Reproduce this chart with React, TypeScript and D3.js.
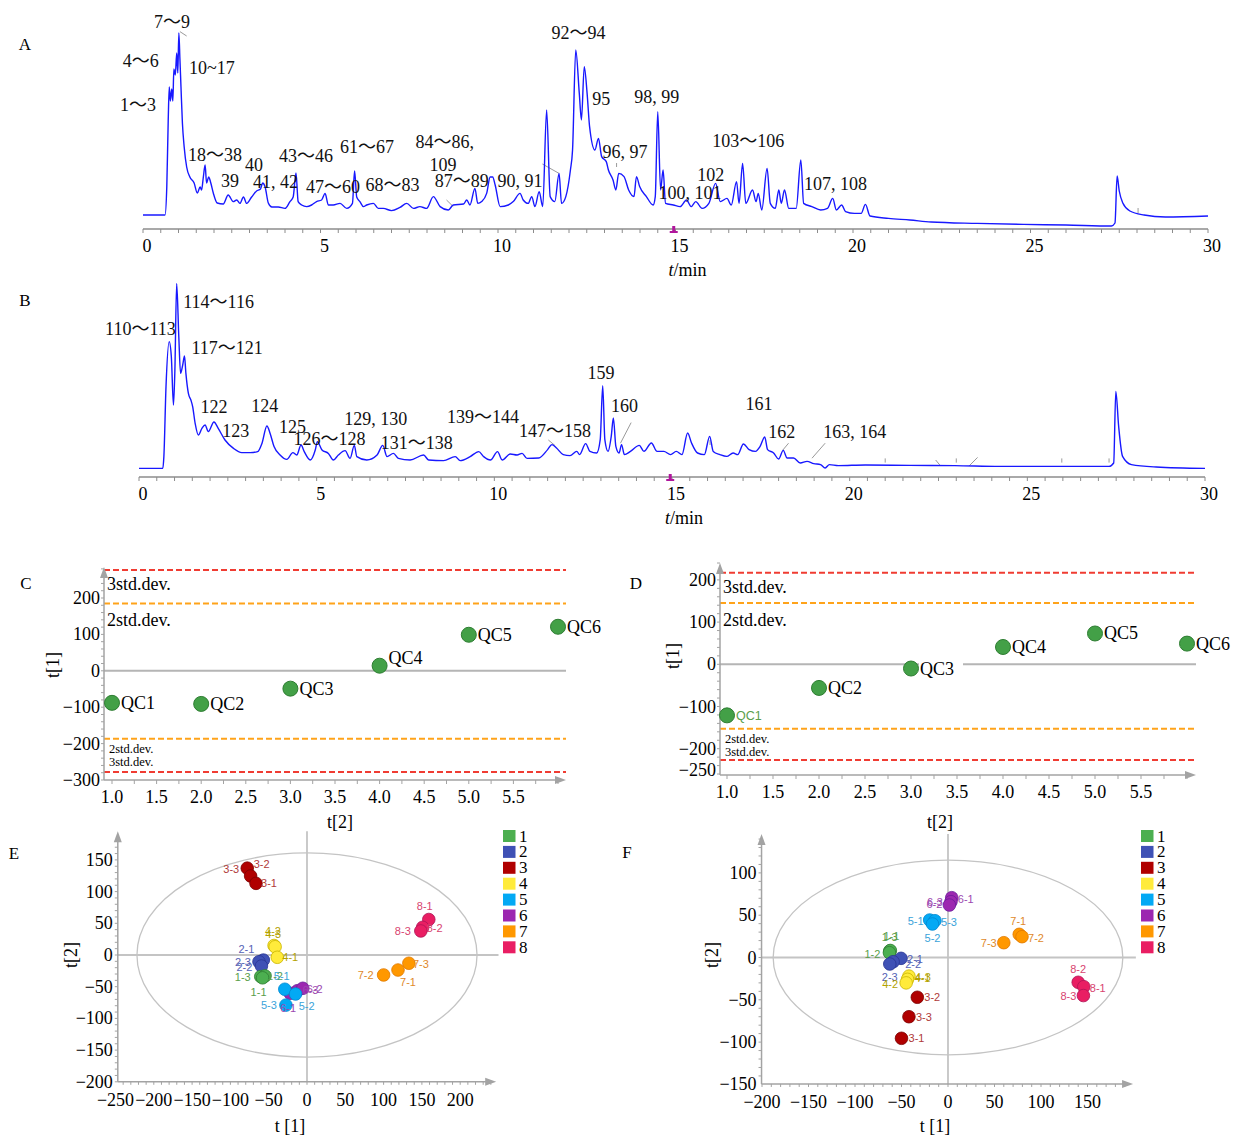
import * as d3 from 'd3';

// ---- chromatogram traces: [time (min), relative intensity] ----
const A_TRACE: [number, number][] = [
  [0, 7], [0.62, 7], [0.67, 21], [0.71, 54], [0.74, 71], [0.77, 64], [0.81, 70], [0.84, 64], [0.87, 80],
  [0.91, 77], [0.95, 88], [0.98, 78], [1.01, 98], [1.04, 85], [1.07, 71], [1.11, 53], [1.16, 41], [1.23, 31],
  [1.32, 26], [1.44, 23], [1.53, 18], [1.61, 21], [1.65, 19.5], [1.7, 26], [1.75, 32], [1.79, 23], [1.85, 26],
  [1.91, 23], [1.98, 18], [2.09, 13], [2.26, 12.5], [2.4, 17], [2.54, 13.7], [2.64, 14.5], [2.73, 12.8],
  [2.83, 16], [2.92, 12.8], [3.06, 16], [3.2, 19], [3.31, 20], [3.37, 23], [3.44, 21], [3.53, 13], [3.63, 11],
  [3.81, 11], [4.0, 10.3], [4.14, 13.7], [4.23, 16], [4.31, 28], [4.37, 13.7], [4.47, 12], [4.61, 11.2],
  [4.75, 12], [4.89, 13.7], [5.03, 14.5], [5.13, 17.8], [5.22, 12], [5.36, 12], [5.55, 12.8], [5.74, 10.3],
  [5.9, 12.8], [5.96, 29], [6.02, 16], [6.11, 13.7], [6.21, 11.2], [6.3, 12], [6.49, 12.8], [6.63, 10.3],
  [6.77, 10.3], [7.0, 9.2], [7.24, 10.8], [7.43, 12.8], [7.62, 10.3], [7.8, 11.2], [7.99, 10.3], [8.18, 16.2],
  [8.37, 11.2], [8.6, 9.5], [8.74, 12], [9.03, 12.5], [9.12, 14.5], [9.21, 12], [9.35, 20.3], [9.43, 12.8],
  [9.54, 13.7], [9.68, 17.8], [9.78, 26], [9.85, 26], [9.92, 22], [10.06, 11.2], [10.29, 12], [10.43, 13.7],
  [10.62, 17.8], [10.71, 14.5], [10.85, 12.8], [10.95, 16.2], [11.04, 11.2], [11.16, 18.7], [11.26, 11.2],
  [11.37, 59.5], [11.47, 16.2], [11.6, 13.7], [11.72, 27.8], [11.79, 12.8], [11.91, 16.2], [12.04, 29.5],
  [12.1, 39.5], [12.19, 89.5], [12.29, 67.8], [12.35, 54.5], [12.43, 81.2], [12.51, 67.8], [12.58, 51.2],
  [12.73, 39.5], [12.83, 45.3], [12.92, 36.2], [13.05, 33.7], [13.11, 29.5], [13.24, 24.5], [13.32, 19.5],
  [13.4, 27.8], [13.55, 26.2], [13.68, 19.5], [13.83, 16.2], [13.9, 26.2], [13.99, 21.2], [14.18, 16.2],
  [14.37, 12], [14.43, 16.2], [14.5, 58.7], [14.58, 19.5], [14.65, 29.5], [14.72, 12.8], [14.94, 12],
  [15.13, 11.2], [15.31, 14.5], [15.44, 11.2], [15.57, 13.7], [15.75, 10.3], [15.94, 12.8], [16.13, 22.8],
  [16.26, 13.7], [16.45, 15.3], [16.57, 12], [16.72, 23.7], [16.79, 12.8], [16.89, 32.8], [16.98, 12.8],
  [17.17, 19.5], [17.27, 13.7], [17.33, 17.8], [17.43, 9.5], [17.58, 30.3], [17.67, 12.8], [17.81, 10.3],
  [17.91, 19.5], [17.98, 12.8], [18.07, 19.5], [18.19, 10.3], [18.4, 10.3], [18.53, 34.5], [18.61, 12.8],
  [18.84, 11.2], [19.09, 9.5], [19.28, 10.3], [19.43, 15.3], [19.53, 9.5], [19.68, 12], [19.79, 8.7],
  [20.04, 7.8], [20.23, 7.8], [20.35, 12.3], [20.48, 6.5], [21.0, 5.3], [21.6, 4.5], [22.2, 3.5], [23.5, 2.8],
  [24.8, 2.3], [26.0, 2.0], [27.28, 1.5], [27.38, 3], [27.44, 26.5], [27.5, 19], [27.6, 13], [27.8, 9],
  [28.2, 7], [28.8, 6], [30, 6.5],
];

const B_TRACE: [number, number][] = [
  [0, 4.3], [0.67, 4.3], [0.7, 10.2], [0.76, 45.2], [0.85, 67.7], [0.91, 60.2], [0.97, 36], [1.01, 53.5],
  [1.06, 96.8], [1.12, 70.2], [1.17, 51.8], [1.23, 56], [1.28, 60.5], [1.32, 51.8], [1.39, 41.8], [1.46, 38.5],
  [1.51, 35.2], [1.58, 26.8], [1.67, 21], [1.77, 24.3], [1.86, 26], [1.95, 22.7], [2.11, 27.5], [2.23, 24.3],
  [2.42, 18.5], [2.66, 14.3], [2.89, 12.2], [3.13, 12.2], [3.34, 12.7], [3.46, 16.8], [3.6, 25.5], [3.69, 21.8],
  [3.8, 15.2], [3.97, 11], [4.16, 8.8], [4.33, 12.2], [4.44, 11], [4.56, 16], [4.65, 12.7], [4.82, 8.5],
  [4.96, 13.5], [5.02, 17.7], [5.15, 13.5], [5.33, 11.8], [5.47, 8.5], [5.61, 11], [5.8, 13.2], [5.94, 9.3],
  [6.06, 15.8], [6.13, 10.2], [6.41, 8.5], [6.7, 11], [6.86, 15.8], [6.98, 10.2], [7.16, 11.8], [7.3, 9.3],
  [7.63, 8.5], [8.01, 11], [8.15, 8.5], [8.57, 8.2], [8.9, 10.2], [9.04, 8.2], [9.32, 10.2], [9.56, 12.7],
  [9.7, 10.2], [9.89, 8.5], [10.09, 12.7], [10.22, 8.5], [10.45, 11.5], [10.64, 11], [10.78, 11.8],
  [10.92, 9.3], [11.25, 9.5], [11.5, 13.7], [11.62, 16.2], [11.75, 14.5], [11.94, 11.2], [12.13, 10.7],
  [12.32, 12.8], [12.4, 11.2], [12.57, 16.7], [12.69, 12.8], [12.88, 12], [12.98, 18.7], [13.05, 45.7],
  [13.11, 18.7], [13.2, 12.8], [13.29, 20.3], [13.35, 29.5], [13.42, 15.3], [13.51, 12], [13.58, 16.2],
  [13.66, 11.2], [13.83, 12.8], [14.08, 15.8], [14.21, 12.8], [14.42, 17], [14.58, 12.8], [14.77, 12.8],
  [14.96, 11.2], [15.12, 12.8], [15.28, 11.2], [15.44, 22], [15.55, 17], [15.72, 12], [15.91, 11.2],
  [16.06, 20.3], [16.16, 12.8], [16.35, 11.2], [16.54, 10.3], [16.72, 12], [16.85, 11.2], [17.01, 16.5],
  [17.17, 13.7], [17.35, 12.8], [17.48, 15.3], [17.61, 20], [17.69, 13.7], [17.86, 12], [18.0, 9],
  [18.13, 13.3], [18.24, 9.5], [18.42, 9.5], [18.61, 7], [18.8, 7.8], [18.99, 6.7], [19.18, 6.2],
  [19.31, 4.5], [19.43, 6.2], [19.68, 5.7], [20.44, 6], [21.7, 5.8], [22.96, 5.7], [24.22, 5.3],
  [25.48, 5.3], [26.74, 5.3], [27.3, 5.3], [27.43, 7], [27.49, 42.8], [27.57, 25.3], [27.68, 10.3],
  [27.93, 6.2], [28.63, 5], [30, 4.3],
];

// peak annotations, placed in (time, intensity) units
const A_PEAKS = [
  { text: '7～9', t: 0.82, v: 103.5 }, { text: '4～6', t: -0.06, v: 84 }, { text: '10~17', t: 1.94, v: 80.5 },
  { text: '1～3', t: -0.14, v: 62 }, { text: '18～38', t: 2.03, v: 37 }, { text: '40', t: 3.13, v: 32 },
  { text: '39', t: 2.45, v: 24 }, { text: '41, 42', t: 3.73, v: 23.5 }, { text: '43～46', t: 4.59, v: 36.5 },
  { text: '47～60', t: 5.35, v: 21 }, { text: '61～67', t: 6.31, v: 41 }, { text: '68～83', t: 7.03, v: 22 },
  { text: '84～86,', t: 8.5, v: 43.5 }, { text: '109', t: 8.45, v: 32 }, { text: '87～89', t: 8.98, v: 24 },
  { text: '90, 91', t: 10.62, v: 24 }, { text: '92～94', t: 12.27, v: 98 }, { text: '95', t: 12.91, v: 65 },
  { text: '98, 99', t: 14.47, v: 66 }, { text: '96, 97', t: 13.58, v: 38.5 }, { text: '103～106', t: 17.05, v: 44 },
  { text: '102', t: 15.99, v: 27 }, { text: '100, 101', t: 15.41, v: 18 }, { text: '107, 108', t: 19.51, v: 22.5 },
];

const B_PEAKS = [
  { text: '110～113', t: 0.04, v: 73.8 }, { text: '114～116', t: 2.24, v: 87.6 }, { text: '117～121', t: 2.48, v: 64.3 },
  { text: '122', t: 2.11, v: 35.1 }, { text: '123', t: 2.72, v: 23.1 }, { text: '124', t: 3.54, v: 35.5 },
  { text: '125', t: 4.32, v: 25.1 }, { text: '126～128', t: 5.36, v: 18.8 }, { text: '129, 130', t: 6.66, v: 28.8 },
  { text: '131～138', t: 7.82, v: 17.1 }, { text: '139～144', t: 9.68, v: 30.1 }, { text: '147～158', t: 11.71, v: 23.1 },
  { text: '159', t: 13.0, v: 52.1 }, { text: '160', t: 13.66, v: 35.5 }, { text: '161', t: 17.45, v: 36.5 },
  { text: '162', t: 18.09, v: 22.6 }, { text: '163, 164', t: 20.14, v: 22.6 },
];

// thin grey pointer lines [t1, v1, t2, v2]
const A_LEADERS = [
  [1.04, 98.7, 1.23, 96.5], [8.55, 14.5, 8.74, 11.2], [11.25, 32.5, 11.72, 27.8], [13.34, 33, 13.34, 31],
  [28.03, 10.5, 28.03, 8],
];
const B_LEADERS = [
  [13.85, 27.2, 13.55, 16.9], [19.31, 16.9, 18.94, 9.4], [18.28, 16.9, 18.12, 13.5], [11.52, 18.5, 11.71, 15.7],
  [16.07, 18.5, 16.07, 16], [21.0, 9.3, 21.0, 7.2], [23.0, 9.3, 23.0, 7.2], [25.97, 9.3, 25.97, 7.2],
  [27.3, 9.3, 27.3, 7.2], [22.42, 8.5, 22.56, 5.5], [23.6, 9.8, 23.36, 5.5],
];

const TIME_TICKS = [0, 5, 10, 15, 20, 25, 30];

// ---- QC score plots ----
const QC_NAMES = ['QC1', 'QC2', 'QC3', 'QC4', 'QC5', 'QC6'];
const QC_ORDER = [1, 2, 3, 4, 5, 6];
const C_SCORES = [-88, -91, -49, 14, 99, 121];
const D_SCORES = [-121, -56, -10, 41, 73, 49];
const C_SD2 = [185, -187];
const C_SD3 = [277, -278];
const D_SD2 = [145, -153];
const D_SD3 = [217, -227];
const C_YTICKS = [200, 100, 0, -100, -200, -300];
const D_YTICKS = [200, 100, 0, -100, -200, -250];
const QC_XTICKS = [1.0, 1.5, 2.0, 2.5, 3.0, 3.5, 4.0, 4.5, 5.0, 5.5];

// ---- PCA score plots ----
const GROUPS = ['1', '2', '3', '4', '5', '6', '7', '8'];
const GROUP_FILL = ['#4caf50', '#3f51b5', '#b00000', '#ffeb3b', '#03a9f4', '#9c27b0', '#ff9800', '#e91e63'];
const GROUP_STROKE = ['#2e7d32', '#283593', '#7a0000', '#c9b400', '#0288d1', '#6a1b9a', '#e07800', '#ad1457'];
const GROUP_TEXT = ['#5a9e4b', '#5562b5', '#b03a3a', '#b3a200', '#3aa3da', '#9c48b0', '#e0892a', '#d8436f'];

const E_POINTS = [
  { id: '3-3', g: 2, x: -78, y: 137 }, { id: '3-2', g: 2, x: -73.6, y: 124.6 }, { id: '3-1', g: 2, x: -66.6, y: 113 },
  { id: '8-1', g: 7, x: 159, y: 56 }, { id: '8-2', g: 7, x: 151, y: 43.7 }, { id: '8-3', g: 7, x: 148.6, y: 37.9 },
  { id: '7-3', g: 6, x: 133, y: -13 }, { id: '7-1', g: 6, x: 118.8, y: -23.7 }, { id: '7-2', g: 6, x: 100, y: -31.5 },
  { id: '4-2', g: 3, x: -43, y: 15 }, { id: '4-3', g: 3, x: -41.6, y: 13 }, { id: '4-1', g: 3, x: -38.8, y: -3.6 },
  { id: '2-1', g: 1, x: -57, y: -8 }, { id: '2-3', g: 1, x: -62.7, y: -10.6 }, { id: '2-2', g: 1, x: -59.5, y: -17.4 },
  { id: '1-3', g: 0, x: -60.4, y: -34 }, { id: '1-2', g: 0, x: -54.8, y: -33 }, { id: '1-1', g: 0, x: -58, y: -36 },
  { id: '6-1', g: 5, x: -22, y: -60.4 }, { id: '6-3', g: 5, x: -12.5, y: -56.3 }, { id: '6-2', g: 5, x: -5.5, y: -52.5 },
  { id: '5-1', g: 4, x: -29, y: -54 }, { id: '5-2', g: 4, x: -14.9, y: -61.5 }, { id: '5-3', g: 4, x: -27.5, y: -79 },
];
const E_LABEL_OFFSETS: Record<string, [number, number]> = {
  '3-3': [-16, 1], '3-2': [11, -12], '3-1': [13, 0], '8-1': [-4, -13], '8-2': [12, 1], '8-3': [-18, 0],
  '7-3': [12, 1], '7-1': [10, 12], '7-2': [-18, 0], '4-3': [-2, -13], '4-2': [-1, -14], '4-1': [13, 0],
  '2-1': [-17, -11], '2-3': [-16, 0], '2-2': [-17, 1], '1-3': [-18, 0], '1-1': [-4, 14], '1-2': [10, 0],
  '5-1': [-3, -13], '5-3': [-17, 0], '5-2': [11, 12], '6-1': [-2, 15], '6-3': [13, -1], '6-2': [12, 1],
};

const F_POINTS = [
  { id: '6-1', g: 5, x: 4, y: 70.7 }, { id: '6-3', g: 5, x: 3.2, y: 66 }, { id: '6-2', g: 5, x: 1.5, y: 62 },
  { id: '5-1', g: 4, x: -19.7, y: 44.3 }, { id: '5-3', g: 4, x: -14, y: 43.5 }, { id: '5-2', g: 4, x: -16.7, y: 39.6 },
  { id: '7-1', g: 6, x: 76.6, y: 27.4 }, { id: '7-2', g: 6, x: 79.6, y: 24.6 }, { id: '7-3', g: 6, x: 60, y: 17.5 },
  { id: '1-3', g: 0, x: -62.6, y: 7.7 }, { id: '1-1', g: 0, x: -62, y: 8.3 }, { id: '1-2', g: 0, x: -63, y: 5.7 },
  { id: '2-1', g: 1, x: -50.5, y: -1 }, { id: '2-2', g: 1, x: -59, y: -5 }, { id: '2-3', g: 1, x: -62.6, y: -7.7 },
  { id: '4-3', g: 3, x: -42, y: -22 }, { id: '4-1', g: 3, x: -43.5, y: -25.8 }, { id: '4-2', g: 3, x: -45, y: -30 },
  { id: '3-2', g: 2, x: -33, y: -47 }, { id: '3-3', g: 2, x: -42, y: -70 }, { id: '3-1', g: 2, x: -50, y: -95.5 },
  { id: '8-2', g: 7, x: 140, y: -29.3 }, { id: '8-1', g: 7, x: 146, y: -34.5 }, { id: '8-3', g: 7, x: 145.6, y: -45 },
];
const F_LABEL_OFFSETS: Record<string, [number, number]> = {
  '6-1': [14, 1], '6-2': [-15, -1], '6-3': [-16, 0], '5-1': [-14, 1], '5-3': [14, 1], '5-2': [0, 14],
  '7-1': [-1, -13], '7-2': [14, 1], '7-3': [-15, 0], '1-3': [0, -14], '1-1': [1, -14], '1-2': [-17, 1],
  '2-1': [14, 1], '2-2': [20, 2], '2-3': [0, 13], '4-3': [14, 1], '4-1': [15, -1], '4-2': [-16, 1],
  '3-2': [15, 0], '3-3': [15, 0], '3-1': [15, 0], '8-2': [0, -13], '8-1': [14, 1], '8-3': [-15, 0],
};

const E_XTICKS = [-250, -200, -150, -100, -50, 0, 50, 100, 150, 200];
const E_YTICKS = [150, 100, 50, 0, -50, -100, -150, -200];
const F_XTICKS = [-200, -150, -100, -50, 0, 50, 100, 150];
const F_YTICKS = [100, 50, 0, -50, -100, -150];

const SERIF = "'Liberation Serif', 'Noto Sans CJK SC', 'Times New Roman', serif";
const SANS = "'Liberation Sans', Arial, sans-serif";
const AXIS = '#a3a3a3';

const num = (v: number) => (v < 0 ? `\u2212${Math.abs(v)}` : `${v}`);

function UpArrow({ x, y }: { x: number; y: number }) {
  return <path d={`M${x - 4},${y + 11} L${x},${y} L${x + 4},${y + 11} Z`} fill={AXIS} />;
}
function RightArrow({ x, y }: { x: number; y: number }) {
  return <path d={`M${x - 11},${y - 4} L${x},${y} L${x - 11},${y + 4} Z`} fill={AXIS} />;
}

function Chromatogram(props: {
  trace: [number, number][];
  peaks: { text: string; t: number; v: number }[];
  leaders: number[][];
  x0: number; x1: number; axisY: number; name: string; nameY: number;
}) {
  const { trace, peaks, leaders, x0, x1, axisY, name, nameY } = props;
  const x = d3.scaleLinear().domain([0, 30]).range([x0, x1]);
  const y = d3.scaleLinear().domain([0, 100]).range([axisY, axisY - 200]);
  const line = d3.line<[number, number]>().x(d => x(d[0])).y(d => y(d[1])).curve(d3.curveMonotoneX);

  return (
    <g>
      <text x={25} y={nameY} fontSize={17} textAnchor="middle" dominantBaseline="central">{name}</text>
      {leaders.map((l, i) => (
        <line key={i} x1={x(l[0])} y1={y(l[1])} x2={x(l[2])} y2={y(l[3])} stroke="#9a9a9a" strokeWidth={1} />
      ))}
      <path d={line(trace) ?? ''} fill="none" stroke="#1818ff" strokeWidth={1.4} strokeLinejoin="round" />
      <line x1={x(0)} x2={x(30)} y1={axisY} y2={axisY} stroke="#8c8c8c" strokeWidth={1.5} />
      {d3.range(0, 30.01, 0.5).map(t => (
        <line key={t} x1={x(t)} x2={x(t)} y1={axisY} y2={axisY + 4} stroke="#8c8c8c" strokeWidth={1} />
      ))}
      <rect x={x(14.95) - 1.5} y={axisY - 3} width={3} height={7} fill="#b0169c" />
      <rect x={x(14.95) - 4} y={axisY + 2} width={8} height={2} fill="#b0169c" />
      {TIME_TICKS.map(t => (
        <text key={t} x={x(t) + 4} y={axisY + 17} fontSize={18} textAnchor="middle" dominantBaseline="central">{t}</text>
      ))}
      <text x={(x0 + x1) / 2 + 12} y={axisY + 41} fontSize={18} textAnchor="middle" dominantBaseline="central">
        <tspan fontStyle="italic">t</tspan>/min
      </text>
      {peaks.map(p => (
        <text key={p.text} x={x(p.t)} y={y(p.v)} fontSize={18} textAnchor="middle" dominantBaseline="central" fill="#111">
          {p.text}
        </text>
      ))}
    </g>
  );
}

function QCPanel(props: {
  name: string; nameX: number; scores: number[]; sd2: number[]; sd3: number[]; yTicks: number[];
  yDomain: [number, number]; yRange: [number, number]; xRange: [number, number];
  axisX: number; axisY: number; topY: number; rightX: number; yTitleX: number; yTitleY: number; xTitleX: number;
  labelDy: number[]; smallFirst: boolean;
}) {
  const p = props;
  const x = d3.scaleLinear().domain([1, 6]).range(p.xRange);
  const y = d3.scaleLinear().domain(p.yDomain).range(p.yRange);
  const yMinor = d3.range(Math.ceil(y.invert(p.axisY) / 20) * 20, y.invert(p.topY), 20);
  const xMinor = d3.range(1, 6.01, 0.25);
  const dash = (v: number, color: string) => (
    <line x1={p.axisX} x2={p.rightX} y1={y(v)} y2={y(v)} stroke={color} strokeWidth={2} strokeDasharray="6,3" />
  );
  return (
    <g>
      <text x={p.nameX} y={583} fontSize={17} textAnchor="middle" dominantBaseline="central">{p.name}</text>
      <line x1={p.axisX} x2={p.rightX} y1={y(0)} y2={y(0)} stroke="#b5b5b5" strokeWidth={2} />
      {dash(p.sd3[0], '#f03c32')}
      {dash(p.sd3[1], '#f03c32')}
      {dash(p.sd2[0], '#ffa31a')}
      {dash(p.sd2[1], '#ffa31a')}
      <text x={p.axisX + 3} y={y(p.sd3[0]) + 14} fontSize={18} dominantBaseline="central">3std.dev.</text>
      <text x={p.axisX + 3} y={y(p.sd2[0]) + 17} fontSize={18} dominantBaseline="central">2std.dev.</text>
      <text x={p.axisX + 5} y={y(p.sd2[1]) + 10} fontSize={12.5} dominantBaseline="central">2std.dev.</text>
      <text x={p.axisX + 5} y={y(p.sd2[1]) + 23} fontSize={12.5} dominantBaseline="central">3std.dev.</text>
      {/* axes */}
      <line x1={p.axisX} x2={p.axisX} y1={p.axisY} y2={p.topY + 4} stroke={AXIS} strokeWidth={1.5} />
      <UpArrow x={p.axisX} y={p.topY} />
      <line x1={p.axisX} x2={p.rightX - 4} y1={p.axisY} y2={p.axisY} stroke={AXIS} strokeWidth={1.5} />
      <RightArrow x={p.rightX} y={p.axisY} />
      {yMinor.map(v => (
        <line key={v} x1={p.axisX - 3} x2={p.axisX} y1={y(v)} y2={y(v)} stroke={AXIS} strokeWidth={1} />
      ))}
      {xMinor.map(v => (
        <line key={v} x1={x(v)} x2={x(v)} y1={p.axisY} y2={p.axisY + 4} stroke={AXIS} strokeWidth={1} />
      ))}
      {p.yTicks.map(v => (
        <text key={v} x={p.axisX - 4} y={y(v)} fontSize={18} textAnchor="end" dominantBaseline="central">{num(v)}</text>
      ))}
      {QC_XTICKS.map(v => (
        <text key={v} x={x(v)} y={p.axisY + 17} fontSize={18} textAnchor="middle" dominantBaseline="central">
          {d3.format('.1f')(v)}
        </text>
      ))}
      <text transform={`translate(${p.yTitleX},${p.yTitleY}) rotate(-90)`} fontSize={18} textAnchor="middle" dominantBaseline="central">t[1]</text>
      <text x={p.xTitleX} y={822} fontSize={18} textAnchor="middle" dominantBaseline="central">t[2]</text>
      {/* points */}
      {p.scores.map((s, i) => {
        const small = p.smallFirst && i === 0;
        const lx = x(QC_ORDER[i]) + 9;
        const ly = y(s) + p.labelDy[i];
        return (
          <g key={QC_NAMES[i]}>
            <rect x={lx - 1} y={ly - 10} width={small ? 28 : 44} height={20} fill="#fff" />
            <circle cx={x(QC_ORDER[i])} cy={y(s)} r={7.5} fill="#43a047" stroke="#2e7d32" strokeWidth={1} />
            {small ? (
              <text x={lx} y={ly + 1} fontSize={12.5} fontFamily={SANS} fill="#5a9e4b" dominantBaseline="central">{QC_NAMES[i]}</text>
            ) : (
              <text x={lx} y={ly} fontSize={18} dominantBaseline="central">{QC_NAMES[i]}</text>
            )}
          </g>
        );
      })}
    </g>
  );
}

function PCAPanel(props: {
  name: string; nameX: number; nameY: number;
  points: { id: string; g: number; x: number; y: number }[];
  offsets: Record<string, [number, number]>;
  xDomain: [number, number]; xRange: [number, number]; yDomain: [number, number]; yRange: [number, number];
  yAxisAt: number; xAxisAt: number; xMax: number; yMax: number; ellipse: [number, number];
  xTicks: number[]; yTicks: number[]; legendX: number; yTitleX: number; xTitleX: number;
}) {
  const p = props;
  const x = d3.scaleLinear().domain(p.xDomain).range(p.xRange);
  const y = d3.scaleLinear().domain(p.yDomain).range(p.yRange);
  const ax = x(p.yAxisAt);
  const ay = y(p.xAxisAt);
  const rx = x(p.ellipse[0]) - x(0);
  const ry = y(0) - y(p.ellipse[1]);
  const xMinor = d3.range(Math.ceil(p.yAxisAt / 10) * 10, p.xMax - 5, 10);
  const yMinor = d3.range(Math.ceil(p.xAxisAt / 10) * 10, p.yMax - 5, 10);
  return (
    <g>
      <text x={p.nameX} y={p.nameY} fontSize={17} textAnchor="middle" dominantBaseline="central">{p.name}</text>
      <ellipse cx={x(0)} cy={y(0)} rx={rx} ry={ry} fill="none" stroke="#c4c4c4" strokeWidth={1.3} />
      <line x1={ax} x2={x(p.xMax + 3)} y1={y(0)} y2={y(0)} stroke="#c4c4c4" strokeWidth={1.8} />
      <line x1={x(0)} x2={x(0)} y1={y(p.yMax)} y2={ay} stroke="#c4c4c4" strokeWidth={1.8} />
      <line x1={ax} x2={ax} y1={ay} y2={y(p.yMax) + 4} stroke={AXIS} strokeWidth={1.5} />
      <UpArrow x={ax} y={y(p.yMax)} />
      <line x1={ax} x2={x(p.xMax) - 4} y1={ay} y2={ay} stroke={AXIS} strokeWidth={1.5} />
      <RightArrow x={x(p.xMax)} y={ay} />
      {yMinor.map(v => (
        <line key={v} x1={ax - 3} x2={ax} y1={y(v)} y2={y(v)} stroke={AXIS} strokeWidth={1} />
      ))}
      {xMinor.map(v => (
        <line key={v} x1={x(v)} x2={x(v)} y1={ay} y2={ay + 3} stroke={AXIS} strokeWidth={1} />
      ))}
      {p.yTicks.map(v => (
        <text key={v} x={ax - 5} y={y(v)} fontSize={18} textAnchor="end" dominantBaseline="central">{num(v)}</text>
      ))}
      {p.xTicks.map(v => (
        <text key={v} x={x(v)} y={ay + 18} fontSize={18} textAnchor="middle" dominantBaseline="central">{num(v)}</text>
      ))}
      <text transform={`translate(${p.yTitleX},955) rotate(-90)`} fontSize={18} textAnchor="middle" dominantBaseline="central">t[2]</text>
      <text x={p.xTitleX} y={1126} fontSize={18} textAnchor="middle" dominantBaseline="central">t [1]</text>
      {p.points.map(d => (
        <circle key={d.id} cx={x(d.x)} cy={y(d.y)} r={6.3} fill={GROUP_FILL[d.g]} stroke={GROUP_STROKE[d.g]} strokeWidth={0.8} />
      ))}
      {p.points.map(d => {
        const o = p.offsets[d.id] ?? [12, 0];
        return (
          <text key={d.id} x={x(d.x) + o[0]} y={y(d.y) + o[1]} fontSize={11} fontFamily={SANS}
            fill={GROUP_TEXT[d.g]} textAnchor="middle" dominantBaseline="central">{d.id}</text>
        );
      })}
      {GROUPS.map((g, i) => (
        <g key={g}>
          <rect x={p.legendX} y={830 + i * 15.9} width={12.5} height={12} fill={GROUP_FILL[i]} />
          <text x={p.legendX + 16} y={836 + i * 15.9} fontSize={17} dominantBaseline="central">{g}</text>
        </g>
      ))}
    </g>
  );
}

export default function App() {
  return (
    <svg width={1233} height={1136} fontFamily={SERIF} fill="#000"
      style={{ position: 'absolute', left: 0, top: 0, background: '#fff' }}>
      <rect width={1233} height={1136} fill="#fff" />
      <Chromatogram trace={A_TRACE} peaks={A_PEAKS} leaders={A_LEADERS} x0={143} x1={1208} axisY={229} name="A" nameY={44} />
      <Chromatogram trace={B_TRACE} peaks={B_PEAKS} leaders={B_LEADERS} x0={139} x1={1205} axisY={477} name="B" nameY={300} />

      <QCPanel name="C" nameX={26} scores={C_SCORES} sd2={C_SD2} sd3={C_SD3} yTicks={C_YTICKS}
        yDomain={[-300, 200]} yRange={[780, 598]} xRange={[112, 558]}
        axisX={104} axisY={780} topY={567} rightX={566} yTitleX={53} yTitleY={665} xTitleX={340}
        labelDy={[0, 0, 0, -8, 0, 0]} smallFirst={false} />
      <QCPanel name="D" nameX={636} scores={D_SCORES} sd2={D_SD2} sd3={D_SD3} yTicks={D_YTICKS}
        yDomain={[-250, 200]} yRange={[769.8, 579.9]} xRange={[727, 1187]}
        axisX={720} axisY={775} topY={563} rightX={1196} yTitleX={673} yTitleY={656} xTitleX={940}
        labelDy={[0, 0, 0, 0, 0, 0]} smallFirst={true} />

      <PCAPanel name="E" nameX={14} nameY={853} points={E_POINTS} offsets={E_LABEL_OFFSETS}
        xDomain={[-250, 200]} xRange={[115.5, 460.2]} yDomain={[-200, 150]} yRange={[1081.8, 859.9]}
        yAxisAt={-247} xAxisAt={-200} xMax={247} yMax={195} ellipse={[222, 161]}
        xTicks={E_XTICKS} yTicks={E_YTICKS} legendX={503} yTitleX={71} xTitleX={290} />
      <PCAPanel name="F" nameX={627} nameY={852} points={F_POINTS} offsets={F_LABEL_OFFSETS}
        xDomain={[-200, 150]} xRange={[762, 1087.5]} yDomain={[-150, 100]} yRange={[1084.4, 872.9]}
        yAxisAt={-200.5} xAxisAt={-149.5} xMax={199} yMax={146} ellipse={[188, 115]}
        xTicks={F_XTICKS} yTicks={F_YTICKS} legendX={1141} yTitleX={712} xTitleX={935} />
    </svg>
  );
}
